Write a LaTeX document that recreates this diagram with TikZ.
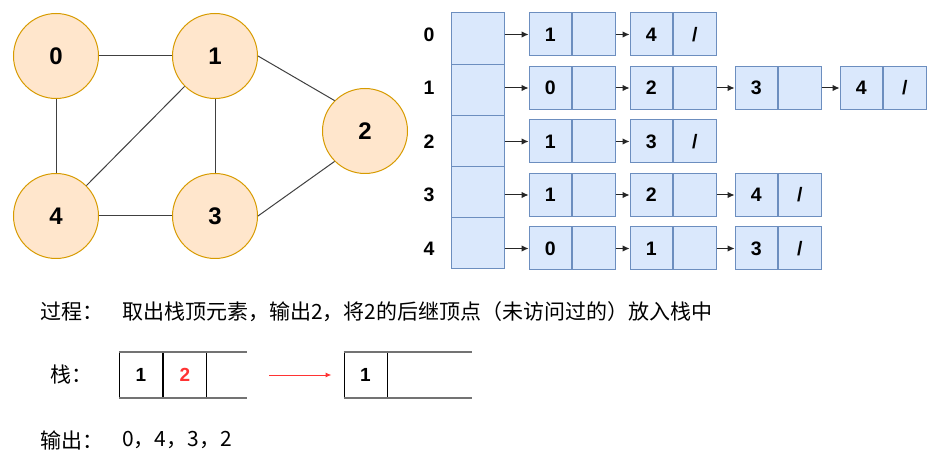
\documentclass[tikz,border=0pt]{standalone}
\usepackage{fontspec}
\setmainfont{Liberation Sans}
\newfontfamily\cjk{Noto Sans CJK SC}
\usetikzlibrary{arrows.meta}

\definecolor{vfill}{HTML}{FFE6CC}
\definecolor{vdraw}{HTML}{D79B00}
\definecolor{lfill}{HTML}{DAE8FC}
\definecolor{ldraw}{HTML}{6C8EBF}
\definecolor{edgegray}{HTML}{404040}
\definecolor{popred}{HTML}{FF3333}

\tikzset{
  vertex/.style={circle, draw=vdraw, fill=vfill, line width=1pt, minimum size=85pt,
    inner sep=0pt, font=\fontsize{24}{24}\selectfont\bfseries},
  gedge/.style={draw=edgegray, line width=1pt},
  headcell/.style={rectangle, draw=ldraw, fill=lfill, line width=1pt,
    minimum width=53pt, minimum height=51.2pt, inner sep=0pt},
  listcell/.style={rectangle, draw=ldraw, fill=lfill, line width=1pt,
    minimum width=42.5pt, minimum height=43pt, inner sep=0pt,
    font=\fontsize{19.5}{19.5}\selectfont\bfseries},
  rowlabel/.style={inner sep=0pt, font=\fontsize{19.5}{19.5}\selectfont\bfseries},
  link/.style={-{Latex[length=7pt,width=6.5pt]}, line width=1pt, draw=black!85},
  stackcell/.style={rectangle, draw=black, line width=1pt, minimum width=43pt,
    minimum height=44pt, inner sep=0pt, font=\fontsize{19}{19}\selectfont\bfseries},
  rim/.style={draw=black!55, line width=2pt},
  cjktext/.style={anchor=west, inner sep=0pt, font=\cjk\fontsize{21}{21}\selectfont},
}

\begin{document}
\begin{tikzpicture}[x=1pt, y=-1pt]

  % Fix the canvas size
  \useasboundingbox (0,0) rectangle (948,462);

  % The graph vertices
  \node[vertex] (v0) at (56,56) {0};
  \node[vertex] (v1) at (215,56) {1};
  \node[vertex] (v2) at (365,131) {2};
  \node[vertex] (v3) at (215,216) {3};
  \node[vertex] (v4) at (56,216) {4};

  % The graph edges
  \draw[gedge] (v0.east) -- (v1.west);
  \draw[gedge] (v0.south) -- (v4.north);
  \draw[gedge] (v1.south west) -- (v4.north east);
  \draw[gedge] (v1.south) -- (v3.north);
  \draw[gedge] (v1.east) -- (v2.north west);
  \draw[gedge] (v2.south west) -- (v3.east);
  \draw[gedge] (v4.east) -- (v3.west);

  % Head array of the adjacency list, with its row labels
  \foreach \r in {0,...,4} {
    \node[headcell] (h\r) at (477.5, {38.6+51.2*\r}) {};
    \node[rowlabel] (r\r) at (429, {34.5+53.5*\r}) {\r};
  }

  % The linked lists: row / length / neighbours
  \foreach \r/\len/\vals in {0/2/{1,4}, 1/4/{0,2,3,4}, 2/2/{1,3}, 3/3/{1,2,4}, 4/3/{0,1,3}} {
    \foreach \v [count=\k] in \vals {
      \pgfmathsetmacro\xl{{529,630,735,840}[\k-1]}
      \node[listcell] (a\r\k) at ({\xl+21.25}, {34.5+53.5*\r}) {\v};
      \node[listcell, anchor=west] (b\r\k) at (a\r\k.east) {\ifnum\k=\len /\fi};
      \ifnum\k=1
        \draw[link] (h\r.east |- a\r\k.west) -- (a\r\k.west);
      \else
        \pgfmathtruncatemacro\km{\k-1}
        \draw[link] (b\r\km.east) -- (a\r\k.west);
      \fi
    }
  }

  % Description of the step
  \node[cjktext] (proc) at (40,312) {过程：};
  \node[cjktext] (step) at (122,312) {取出栈顶元素，输出2，将2的后继顶点（未访问过的）放入栈中};

  % Stack before the pop
  \node[cjktext] (stk) at (50,375) {栈：};
  \node[stackcell] (s1) at (141,375) {1};
  \node[stackcell, anchor=west, text=popred] (s2) at (s1.east) {2};
  \coordinate (s1end) at (247,375);
  \draw[rim] (s1.north west) -- (s1.north west -| s1end);
  \draw[rim] (s1.south west) -- (s1.south west -| s1end);

  % Stack after the pop
  \node[stackcell] (t1) at (365.5,375) {1};
  \coordinate (t1end) at (472,375);
  \draw[rim] (t1.north west) -- (t1.north west -| t1end);
  \draw[rim] (t1.south west) -- (t1.south west -| t1end);

  % Red arrow between the two stacks
  \draw[popred, line width=1pt, -{Latex[length=6pt,width=5pt]},
    shorten <=22pt, shorten >=12pt] (s1end) -- (t1.west);

  % Output so far
  \node[cjktext] (out) at (40,440) {输出：};
  \node[cjktext] (seq) at (122,440) {0，4，3，2};

\end{tikzpicture}
\end{document}
